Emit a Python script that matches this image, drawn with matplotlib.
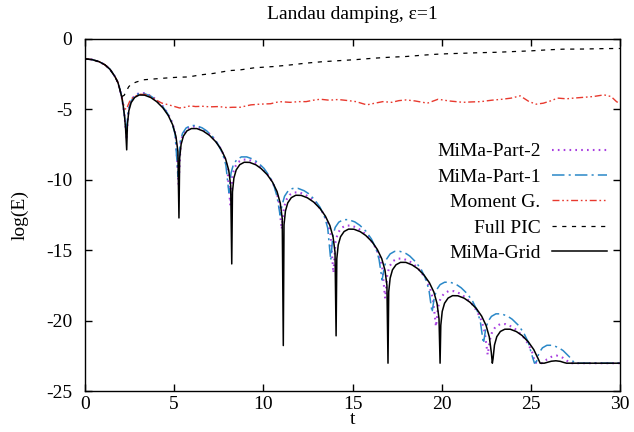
import matplotlib
matplotlib.use("Agg")
import matplotlib.pyplot as plt

plt.rcParams['font.family'] = ['Liberation Serif', 'DejaVu Serif']
plt.rcParams['axes.unicode_minus'] = False
plt.rcParams['lines.scale_dashes'] = False

# common start of all runs (before the first zero of E)
t_early = [0, 0.4, 0.8, 1.12, 1.4, 1.68, 1.85, 1.96, 2.06]
y_early = [-1.42, -1.47, -1.62, -1.84, -2.15, -2.67, -3.1, -3.6, -4.1]

# MiMa-Grid
t_grid = t_early + [2.15, 2.22, 2.28, 2.34,
    2.38, 2.46, 2.59, 2.79, 3.04, 3.34, 3.69, 4.02, 4.37, 4.67, 4.92, 5.10, 5.21, 5.27,
    5.31, 5.39, 5.52, 5.72, 5.97, 6.27, 6.62, 6.98, 7.33, 7.63, 7.88, 8.06, 8.17, 8.23,
    8.27, 8.35, 8.48, 8.68, 8.93, 9.23, 9.58, 9.87, 10.22, 10.52, 10.77, 10.95, 11.06, 11.12,
    11.16, 11.24, 11.37, 11.57, 11.82, 12.12, 12.47, 12.83, 13.18, 13.48, 13.73, 13.91, 14.02, 14.08,
    14.12, 14.20, 14.33, 14.53, 14.78, 15.08, 15.43, 15.74, 16.09, 16.39, 16.64, 16.82, 16.93, 16.99,
    17.03, 17.11, 17.24, 17.44, 17.69, 17.99, 18.34, 18.66, 19.01, 19.31, 19.56, 19.74, 19.85, 19.91,
    19.95, 20.03, 20.16, 20.36, 20.61, 20.91, 21.26, 21.59, 21.94, 22.24, 22.49, 22.67, 22.78, 22.84,
    22.88, 22.96, 23.09, 23.29, 23.54, 23.84, 24.19, 24.51, 24.86, 25.16, 25.41, 25.52,
    25.75, 25.95, 26.15, 26.4, 26.65, 26.85, 27.0, 30.0]
y_grid = y_early + [-4.8, -5.5, -6.4, -7.87,
    -6.08, -5.10, -4.52, -4.15, -3.98, -3.99, -4.16, -4.45, -4.89, -5.43, -6.10, -6.91, -7.99, -12.7,
    -8.45, -7.48, -6.89, -6.52, -6.36, -6.36, -6.53, -6.84, -7.29, -7.83, -8.49, -9.31, -10.39, -15.96,
    -10.85, -9.87, -9.29, -8.92, -8.75, -8.76, -8.93, -9.19, -9.63, -10.17, -10.83, -11.65, -12.73, -21.75,
    -13.19, -12.21, -11.63, -11.26, -11.09, -11.10, -11.27, -11.58, -12.03, -12.57, -13.23, -14.05, -15.13, -21.06,
    -15.59, -14.61, -14.03, -13.66, -13.49, -13.50, -13.67, -13.94, -14.38, -14.93, -15.59, -16.40, -17.48, -23.0,
    -17.94, -16.97, -16.38, -16.02, -15.85, -15.85, -16.03, -16.30, -16.75, -17.29, -17.95, -18.77, -19.85, -23.0,
    -20.31, -19.33, -18.75, -18.38, -18.21, -18.22, -18.39, -18.68, -19.12, -19.66, -20.33, -21.14, -22.22, -23.0,
    -22.68, -21.71, -21.12, -20.75, -20.59, -20.59, -20.76, -21.04, -21.49, -22.03, -22.69, -23.0,
    -23.0, -22.93, -22.86, -22.83, -22.87, -22.95, -23.0, -23.0]

# MiMa-Part-1
t_part1 = t_early + [2.15, 2.22, 2.32,
    2.44, 2.57, 2.77, 3.02, 3.32, 3.67, 3.97, 4.32, 4.62, 4.87, 5.05, 5.22,
    5.34, 5.47, 5.67, 5.92, 6.22, 6.57, 6.82, 7.17, 7.47, 7.72, 7.90, 8.07,
    8.19, 8.32, 8.52, 8.77, 9.07, 9.42, 9.69, 10.04, 10.34, 10.59, 10.77, 10.94,
    11.06, 11.19, 11.39, 11.64, 11.94, 12.29, 12.53, 12.88, 13.18, 13.43, 13.61, 13.78,
    13.90, 14.03, 14.23, 14.48, 14.78, 15.13, 15.41, 15.76, 16.06, 16.31, 16.49, 16.66,
    16.78, 16.91, 17.11, 17.36, 17.66, 18.01, 18.21, 18.56, 18.86, 19.11, 19.29, 19.46,
    19.58, 19.71, 19.91, 20.16, 20.46, 20.81, 21.09, 21.44, 21.74, 21.99, 22.17, 22.34,
    22.46, 22.59, 22.79, 23.04, 23.34, 23.69, 23.95, 24.30, 24.60, 24.85, 25.03, 25.20,
    25.32, 25.45, 25.65, 25.90, 26.20, 26.55, 26.81, 27.16, 27.45, 30.0]
y_part1 = y_early + [-4.8, -5.5, -6.5,
    -5.02, -4.44, -4.06, -3.89, -3.88, -4.04, -4.30, -4.73, -5.26, -5.92, -6.73, -9.76,
    -7.29, -6.70, -6.32, -6.15, -6.14, -6.31, -6.52, -6.95, -7.49, -8.14, -8.95, -10.9,
    -9.51, -8.92, -8.55, -8.37, -8.37, -8.53, -8.76, -9.19, -9.73, -10.38, -11.19, -12.5,
    -11.75, -11.16, -10.78, -10.61, -10.60, -10.77, -10.97, -11.41, -11.94, -12.60, -13.41, -15.7,
    -13.96, -13.37, -13.00, -12.82, -12.82, -12.98, -13.22, -13.65, -14.19, -14.84, -15.65, -17.1,
    -16.21, -15.62, -15.25, -15.07, -15.07, -15.23, -15.40, -15.84, -16.37, -17.03, -17.84, -19.4,
    -18.39, -17.80, -17.43, -17.26, -17.25, -17.41, -17.65, -18.08, -18.62, -19.27, -20.08, -21.6,
    -20.64, -20.05, -19.68, -19.50, -19.50, -19.66, -19.88, -20.31, -20.85, -21.50, -22.31, -23.0,
    -22.87, -22.28, -21.91, -21.73, -21.73, -21.89, -22.11, -22.55, -23.0, -23.0]

# MiMa-Part-2
t_part2 = t_early + [2.15, 2.22, 2.33,
    2.45, 2.58, 2.78, 3.03, 3.33, 3.68, 4.00, 4.35, 4.65, 4.90, 5.08, 5.25,
    5.37, 5.50, 5.70, 5.95, 6.25, 6.60, 6.90, 7.25, 7.55, 7.80, 7.98, 8.15,
    8.27, 8.40, 8.60, 8.85, 9.15, 9.50, 9.78, 10.13, 10.43, 10.68, 10.86, 11.03,
    11.15, 11.28, 11.48, 11.73, 12.03, 12.38, 12.68, 13.03, 13.33, 13.58, 13.76, 13.93,
    14.05, 14.18, 14.38, 14.63, 14.93, 15.28, 15.58, 15.93, 16.23, 16.48, 16.66, 16.83,
    16.95, 17.08, 17.28, 17.53, 17.83, 18.18, 18.43, 18.78, 19.08, 19.33, 19.51, 19.68,
    19.80, 19.93, 20.13, 20.38, 20.68, 21.03, 21.33, 21.68, 21.98, 22.23, 22.41, 22.58,
    22.70, 22.83, 23.03, 23.28, 23.58, 23.93, 24.20, 24.55, 24.85, 25.10, 25.22, 25.45,
    25.6, 25.75, 25.9, 26.15, 26.45, 26.8, 27.05, 27.2, 30.0]
y_part2 = y_early + [-4.8, -5.5, -7.0,
    -4.97, -4.39, -4.02, -3.85, -3.85, -4.03, -4.31, -4.75, -5.29, -5.95, -6.77, -10.3,
    -7.33, -6.75, -6.38, -6.21, -6.22, -6.39, -6.65, -7.10, -7.64, -8.30, -9.12, -11.8,
    -9.68, -9.10, -8.73, -8.56, -8.56, -8.74, -8.98, -9.43, -9.97, -10.63, -11.45, -13.5,
    -12.01, -11.43, -11.06, -10.89, -10.89, -11.07, -11.33, -11.77, -12.31, -12.98, -13.79, -16.6,
    -14.36, -13.77, -13.40, -13.24, -13.24, -13.41, -13.67, -14.12, -14.66, -15.32, -16.14, -18.4,
    -16.70, -16.12, -15.75, -15.58, -15.59, -15.76, -15.98, -16.42, -16.97, -17.63, -18.44, -20.4,
    -19.01, -18.42, -18.06, -17.89, -17.89, -18.06, -18.33, -18.77, -19.31, -19.97, -20.79, -22.4,
    -21.35, -20.77, -20.40, -20.23, -20.23, -20.41, -20.65, -21.09, -21.63, -22.30, -22.95, -23.0,
    -23.0, -22.95, -22.72, -22.55, -22.46, -22.62, -22.85, -23.0, -23.0]

# Moment G.
t_mom = t_early + [2.15, 2.25, 2.32, 2.4, 2.5, 2.65, 2.85, 3.1, 3.4, 3.7, 4.0,
    4.3, 4.6, 4.9, 5.3, 5.6, 5.9, 6.2, 6.6, 7.0, 7.5, 7.95, 8.3, 8.7, 9.3, 9.8, 10.4,
    10.9, 11.5, 12.0, 12.4, 12.8, 13.2, 13.7, 14.2, 14.7, 15.2, 15.8, 16.3, 16.7, 17.2,
    17.6, 18.0, 18.5, 19.2, 19.8, 20.4, 21.2, 21.7, 22.2, 22.8, 23.4, 23.9, 24.4, 24.9,
    25.3, 25.7, 26.1, 26.5, 27.0, 27.4, 27.8, 28.2, 28.5, 29.1, 29.5, 29.8, 30.0]
y_mom = y_early + [-4.6, -4.95, -5.0, -4.75, -4.45, -4.2, -4.05, -3.93, -3.95, -4.1, -4.35,
    -4.55, -4.65, -4.75, -4.9, -4.85, -4.75, -4.8, -4.78, -4.82, -4.8, -4.87, -4.85, -4.85, -4.68, -4.63, -4.6,
    -4.45, -4.5, -4.45, -4.45, -4.35, -4.28, -4.35, -4.3, -4.37, -4.45, -4.68, -4.55, -4.45, -4.5,
    -4.38, -4.33, -4.4, -4.56, -4.28, -4.4, -4.5, -4.47, -4.45, -4.35, -4.28, -4.2, -4.04, -4.45,
    -4.63, -4.56, -4.4, -4.2, -4.25, -4.2, -4.16, -4.12, -4.09, -3.97, -4.09, -4.45, -4.6]

# Full PIC
t_pic = t_early + [2.2, 2.45, 2.6, 2.9, 3.3, 3.8, 4.5, 5.2, 5.8, 6.5, 7.2,
    8.1, 8.7, 9.5, 10.6, 11.5, 12.4, 13.3, 14.3, 15.2, 16.2, 17.1, 18.0, 19.0, 19.7,
    20.4, 21.2, 22.1, 23.1, 24.0, 25.0, 25.9, 26.8, 27.9, 29.1, 30.0]
y_pic = y_early + [-4.0, -3.4, -3.2, -3.05, -2.9, -2.85, -2.78, -2.72, -2.7, -2.55, -2.45,
    -2.25, -2.2, -2.05, -1.96, -1.85, -1.72, -1.62, -1.54, -1.47, -1.37, -1.3, -1.25, -1.15, -1.09,
    -1.05, -1.02, -0.98, -0.95, -0.9, -0.85, -0.78, -0.73, -0.72, -0.69, -0.68]

fig = plt.figure(figsize=(6.34, 4.32), dpi=100)
ax = fig.add_axes([0.134, 0.094, 0.844, 0.816])

ax.plot(t_part2, y_part2, color='#a83ee0', lw=1.5, dashes=(1.2, 3.0), label='MiMa-Part-2')
ax.plot(t_part1, y_part1, color='#2a88c8', lw=1.1, dashes=(9, 3, 1.5, 3), label='MiMa-Part-1')
ax.plot(t_mom, y_mom, color='#e8392e', lw=1.0, dashes=(5, 2, 1.2, 2, 1.2, 2), label='Moment G.')
ax.plot(t_pic, y_pic, color='black', lw=0.9, dashes=(3, 4), label='Full PIC')
ax.plot(t_grid, y_grid, color='black', lw=1.1, label='MiMa-Grid')

ax.set_xlim(0, 30)
ax.set_ylim(-25, 0)
ax.set_xticks([0, 5, 10, 15, 20, 25, 30])
ax.set_yticks([0, -5, -10, -15, -20, -25])
ax.tick_params(direction='in', length=5, width=1, top=True, right=True, labelsize=14)
ax.tick_params(axis='y', pad=9)
ax.tick_params(axis='x', pad=3)
for s in ax.spines.values():
    s.set_linewidth(1.0)

ax.set_title('Landau damping, ε=1', fontsize=14, pad=14)
ax.set_xlabel('t', fontsize=14, labelpad=-1)
ax.set_ylabel('log(E)', fontsize=14, labelpad=13)

ax.legend(loc='upper right', bbox_to_anchor=(0.975, 0.705), markerfirst=False, frameon=False,
          fontsize=14, handlelength=2.8, handletextpad=0.6, labelspacing=0.4, borderpad=0,
          borderaxespad=0)

fig.savefig('out.png', dpi=100)
